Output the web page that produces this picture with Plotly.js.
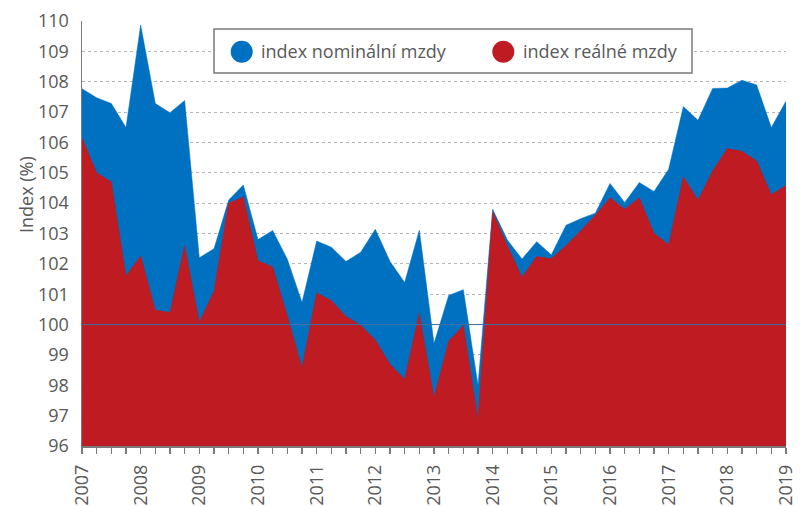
<!DOCTYPE html>
<html>
<head>
<meta charset="utf-8">
<script src="https://cdn.plot.ly/plotly-3.0.1.min.js"></script>
<style>html,body{margin:0;padding:0;background:#fff;}#chart{width:806px;height:506px;}</style>
</head>
<body>
<div id="chart"></div>
<script>
var quarters = [
  2007.00, 2007.25, 2007.50, 2007.75,
  2008.00, 2008.25, 2008.50, 2008.75,
  2009.00, 2009.25, 2009.50, 2009.75,
  2010.00, 2010.25, 2010.50, 2010.75,
  2011.00, 2011.25, 2011.50, 2011.75,
  2012.00, 2012.25, 2012.50, 2012.75,
  2013.00, 2013.25, 2013.50, 2013.75,
  2014.00, 2014.25, 2014.50, 2014.75,
  2015.00, 2015.25, 2015.50, 2015.75,
  2016.00, 2016.25, 2016.50, 2016.75,
  2017.00, 2017.25, 2017.50, 2017.75,
  2018.00, 2018.25, 2018.50, 2018.75,
  2019.00
];
var nominal = [
  107.77, 107.47, 107.28, 106.49,
  109.87, 107.28, 106.98, 107.38,
  102.20, 102.50, 104.10, 104.60,
  102.80, 103.10, 102.15, 100.73,
  102.75, 102.55, 102.08, 102.38,
  103.14, 102.08, 101.39, 103.11,
  99.38, 100.96, 101.15, 98.00,
  103.80, 102.79, 102.16, 102.73,
  102.30, 103.27, 103.49, 103.67,
  104.65, 104.02, 104.68, 104.38,
  105.12, 107.18, 106.73, 107.78,
  107.79, 108.05, 107.89, 106.49,
  107.36
];
var real = [
  106.15, 105.00, 104.70, 101.60,
  102.26, 100.48, 100.40, 102.60,
  100.08, 101.10, 104.00, 104.20,
  102.10, 101.90, 100.30, 98.58,
  101.04, 100.79, 100.27, 99.98,
  99.49, 98.69, 98.20, 100.38,
  97.60, 99.45, 99.97, 96.90,
  103.72, 102.60, 101.56, 102.24,
  102.17, 102.60, 103.09, 103.60,
  104.18, 103.80, 104.18, 103.01,
  102.63, 104.87, 104.10, 105.06,
  105.80, 105.71, 105.39, 104.28,
  104.59
];
var yearTicks = [2007, 2008, 2009, 2010, 2011, 2012, 2013, 2014, 2015, 2016, 2017, 2018, 2019];
var yearLabels = ["2007", "2008", "2009", "2010", "2011", "2012", "2013", "2014", "2015", "2016", "2017", "2018", "2019"];
var seriesNames = ["index nominální mzdy", "index reálné mzdy"];
var yTitle = "Index (%)";

var BLUE = "#0070c0";
var RED = "#be1b22";
var TXT = "#595959";
var FONT = "Open Sans, sans-serif";
var FS = 18;

var traces = [
  {x: quarters, y: nominal, name: seriesNames[0], type: "scatter", mode: "lines",
   fill: "tozeroy", fillcolor: BLUE, line: {color: BLUE, width: 0.5}, showlegend: false, hoverinfo: "x+y"},
  {x: quarters, y: real, name: seriesNames[1], type: "scatter", mode: "lines",
   fill: "tozeroy", fillcolor: RED, line: {color: RED, width: 0.5}, showlegend: false, hoverinfo: "x+y"}
];

var L = 82, T = 21, W = 704, H = 425;
function px(x) { return (x - L) / W; }
function py(y) { return 1 - (y - T) / H; }

var shapes = [
  {type: "line", xref: "paper", yref: "y", x0: 0, x1: 1, y0: 100, y1: 100,
   line: {color: "#3a6ea5", width: 1}, layer: "above"},
  {type: "rect", xref: "paper", yref: "paper", x0: px(214), x1: px(692), y0: py(73), y1: py(29),
   fillcolor: "#ffffff", line: {color: "#7a7a7a", width: 1.5}, layer: "above"},
  {type: "circle", xref: "paper", yref: "paper", xsizemode: "pixel", ysizemode: "pixel",
   xanchor: px(241.7), yanchor: py(51.7), x0: -11, x1: 11, y0: -11, y1: 11,
   fillcolor: BLUE, line: {width: 0}, layer: "above"},
  {type: "circle", xref: "paper", yref: "paper", xsizemode: "pixel", ysizemode: "pixel",
   xanchor: px(503.3), yanchor: py(51.7), x0: -11, x1: 11, y0: -11, y1: 11,
   fillcolor: RED, line: {width: 0}, layer: "above"}
];

var annotations = [
  {text: seriesNames[0], xref: "paper", yref: "paper", x: px(259), y: py(51),
   xanchor: "left", yanchor: "middle", showarrow: false, font: {family: FONT, size: FS, color: TXT}},
  {text: seriesNames[1], xref: "paper", yref: "paper", x: px(520.5), y: py(51),
   xanchor: "left", yanchor: "middle", showarrow: false, font: {family: FONT, size: FS, color: TXT}},
  {text: yTitle, xref: "paper", yref: "paper", x: px(26), y: py(195),
   xanchor: "center", yanchor: "middle", textangle: -90, showarrow: false,
   font: {family: FONT, size: FS, color: TXT}}
];

var layout = {
  width: 806, height: 506,
  margin: {l: L, r: 20, t: T, b: 60, pad: 0},
  paper_bgcolor: "#ffffff", plot_bgcolor: "#ffffff",
  font: {family: FONT, size: FS, color: TXT},
  showlegend: false,
  xaxis: {
    range: [2007, 2019], tickmode: "array", tickvals: yearTicks, ticktext: yearLabels,
    tickangle: -90, ticks: "outside", ticklen: 6, tickwidth: 1.5, tickcolor: "#7a7a7a",
    minor: {tick0: 2007, dtick: 0.25, ticks: "outside", ticklen: 6, tickwidth: 1.5, tickcolor: "#7a7a7a", showgrid: false},
    showline: true, linecolor: "#7a7a7a", linewidth: 1.5, showgrid: false, zeroline: false,
    tickfont: {family: FONT, size: FS, color: TXT}, ticklabelstandoff: 4
  },
  yaxis: {
    range: [96, 110], tickmode: "linear", tick0: 96, dtick: 1,
    showgrid: true, gridcolor: "#b5b5b5", gridwidth: 1, griddash: "3px,3px",
    showline: true, linecolor: "#7a7a7a", linewidth: 1.5, ticks: "", zeroline: false,
    ticklabelstandoff: 8,
    tickfont: {family: FONT, size: FS, color: TXT}
  },
  shapes: shapes,
  annotations: annotations
};

Plotly.newPlot("chart", traces, layout, {displayModeBar: false, staticPlot: true});
</script>
</body>
</html>
